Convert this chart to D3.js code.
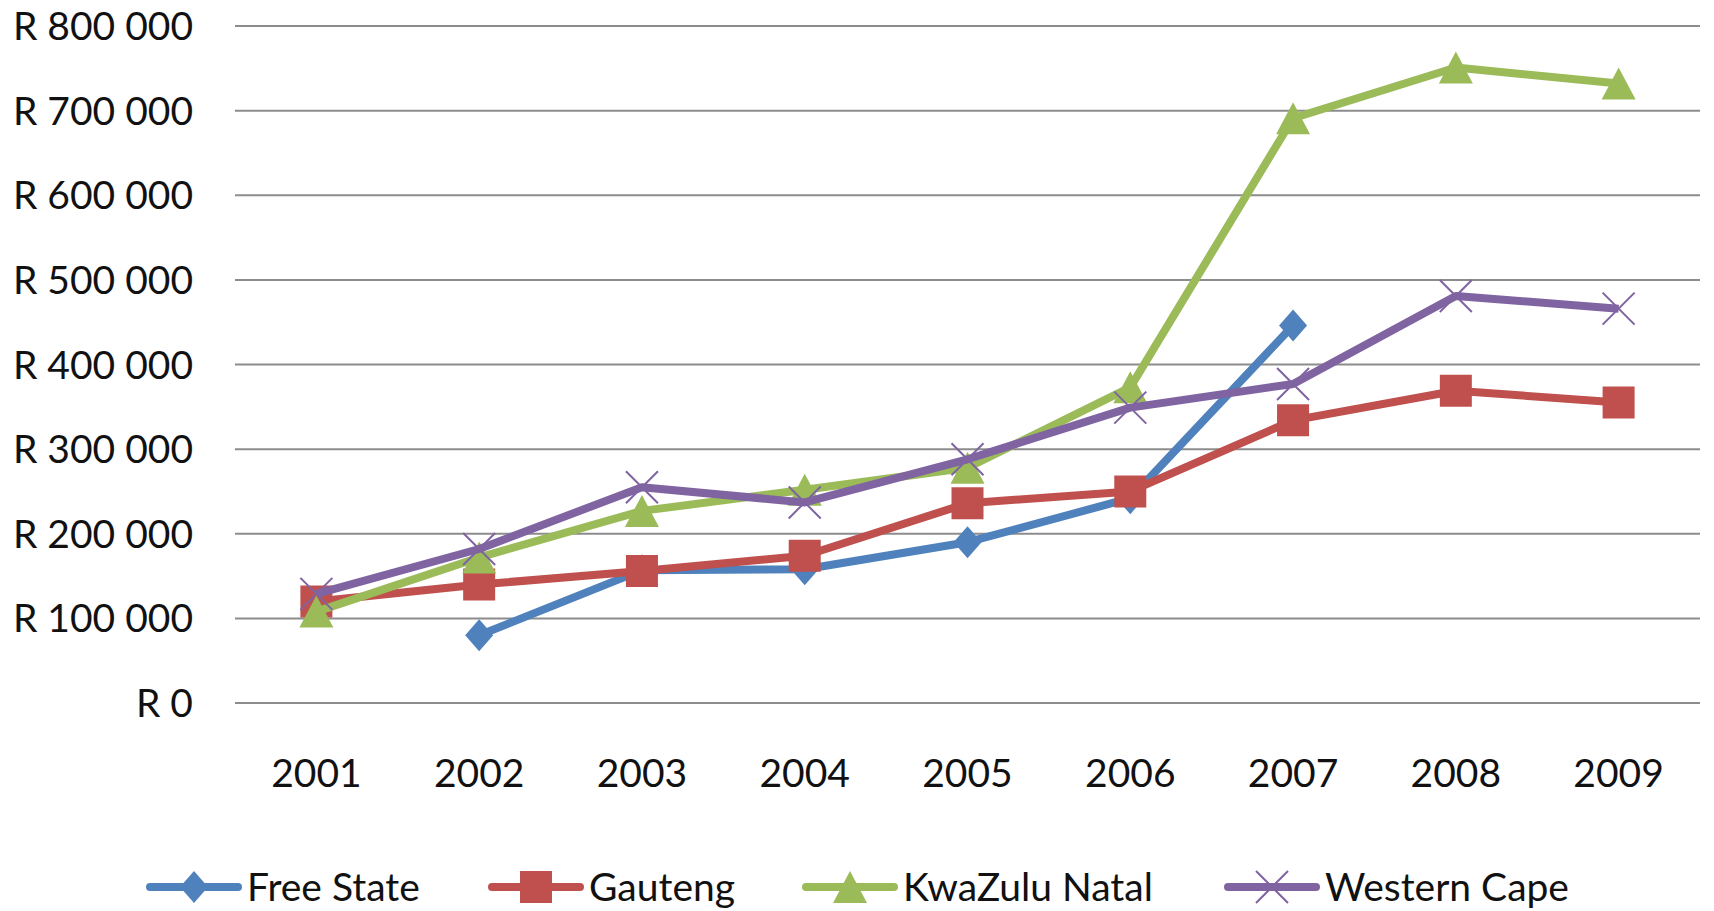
<!DOCTYPE html>
<html>
<head>
<meta charset="utf-8">
<script src="https://cdn.jsdelivr.net/npm/d3@7"></script>
<style>
  body { margin: 0; background: #fff; }
  text { font-family: Lato, "Liberation Sans", sans-serif; fill: #111; }
</style>
</head>
<body>
<div id="chart"></div>
<script>
var width = 1714;
var height = 911;

var years = ["2001", "2002", "2003", "2004", "2005", "2006", "2007", "2008", "2009"];
var seriesNames = ["Free State", "Gauteng", "KwaZulu Natal", "Western Cape"];
var freeState = [null, 80000, 157000, 158000, 190000, 242000, 446000, null, null];
var gauteng = [120000, 140000, 156000, 174000, 236000, 250000, 334000, 369000, 355000];
var kwaZuluNatal = [108000, 172000, 227000, 252000, 278000, 373000, 691000, 751000, 732000];
var westernCape = [129000, 182000, 255000, 237000, 288000, 349000, 377000, 481000, 466000];
var yTicks = [0, 100000, 200000, 300000, 400000, 500000, 600000, 700000, 800000];

var colors = ["#4F81BD", "#C0504D", "#9BBB59", "#8064A2"];
var markers = ["diamond", "square", "triangle", "cross"];
var allValues = [freeState, gauteng, kwaZuluNatal, westernCape];

var series = seriesNames.map(function(name, i) {
    return {
        name: name,
        color: colors[i],
        marker: markers[i],
        values: years.map(function(y, j) { return { year: y, value: allValues[i][j] }; })
    };
});

var svg = d3.select("#chart")
            .append("svg")
            .attr("width", width)
            .attr("height", height);

var xScale = d3.scalePoint()
            .domain(years)
            .range([235, 1700])
            .padding(0.5);

var yScale = d3.scaleLinear()
            .domain([0, 800000])
            .range([703, 26]);

function fmt(v) {
    if (v === 0) return "R 0";
    return "R " + d3.format(",")(v).replace(/,/g, " ");
}

// gridlines
svg.append("g")
    .selectAll("line")
    .data(yTicks)
    .enter()
    .append("line")
    .attr("x1", 235)
    .attr("x2", 1700)
    .attr("y1", function(d) { return yScale(d); })
    .attr("y2", function(d) { return yScale(d); })
    .attr("stroke", "#8c8c8c")
    .attr("stroke-width", 2);

// y labels
svg.append("g")
    .selectAll("text")
    .data(yTicks)
    .enter()
    .append("text")
    .attr("x", 193)
    .attr("y", function(d) { return yScale(d); })
    .attr("dy", "0.36em")
    .attr("text-anchor", "end")
    .style("font-size", "39px")
    .text(fmt);

// x labels
svg.append("g")
    .selectAll("text")
    .data(years)
    .enter()
    .append("text")
    .attr("x", function(d) { return xScale(d); })
    .attr("y", 773)
    .attr("dy", "0.36em")
    .attr("text-anchor", "middle")
    .style("font-size", "39px")
    .text(function(d) { return d; });

function markerPath(type, cx, cy) {
    var p = d3.path();
    if (type === "diamond") {
        p.moveTo(cx, cy - 16); p.lineTo(cx + 14, cy); p.lineTo(cx, cy + 16); p.lineTo(cx - 14, cy); p.closePath();
    } else if (type === "square") {
        p.rect(cx - 16, cy - 16, 32, 32);
    } else if (type === "triangle") {
        p.moveTo(cx, cy - 16); p.lineTo(cx + 17, cy + 16); p.lineTo(cx - 17, cy + 16); p.closePath();
    } else {
        p.moveTo(cx - 16, cy - 16); p.lineTo(cx + 16, cy + 16);
        p.moveTo(cx + 16, cy - 16); p.lineTo(cx - 16, cy + 16);
    }
    return p.toString();
}

var line = d3.line()
    .defined(function(d) { return d.value !== null; })
    .x(function(d) { return xScale(d.year); })
    .y(function(d) { return yScale(d.value); });

var groups = svg.selectAll("g.series")
    .data(series)
    .enter()
    .append("g")
    .attr("class", "series");

groups.append("path")
    .attr("d", function(d) { return line(d.values); })
    .attr("fill", "none")
    .attr("stroke", function(d) { return d.color; })
    .attr("stroke-width", 8)
    .attr("stroke-linejoin", "round");

groups.each(function(s) {
    d3.select(this).selectAll("path.mark")
        .data(s.values.filter(function(d) { return d.value !== null; }))
        .enter()
        .append("path")
        .attr("class", "mark")
        .attr("d", function(d) { return markerPath(s.marker, xScale(d.year), yScale(d.value)); })
        .attr("fill", s.marker === "cross" ? "none" : s.color)
        .attr("stroke", s.color)
        .attr("stroke-width", s.marker === "cross" ? 2 : 0);
});

// legend
var legendX = [150, 492, 806, 1228];
var legendY = 887;
var legend = svg.selectAll("g.legend")
    .data(series)
    .enter()
    .append("g")
    .attr("class", "legend")
    .attr("transform", function(d, i) { return "translate(" + legendX[i] + "," + legendY + ")"; });

legend.append("line")
    .attr("x1", 0).attr("x2", 88)
    .attr("y1", 0).attr("y2", 0)
    .attr("stroke", function(d) { return d.color; })
    .attr("stroke-width", 8)
    .attr("stroke-linecap", "round");

legend.append("path")
    .attr("d", function(d) { return markerPath(d.marker, 44, 0); })
    .attr("fill", function(d) { return d.marker === "cross" ? "none" : d.color; })
    .attr("stroke", function(d) { return d.color; })
    .attr("stroke-width", function(d) { return d.marker === "cross" ? 2 : 0; });

legend.append("text")
    .attr("x", 97)
    .attr("y", 0)
    .attr("dy", "0.36em")
    .style("font-size", "39px")
    .text(function(d) { return d.name; });
</script>
</body>
</html>
